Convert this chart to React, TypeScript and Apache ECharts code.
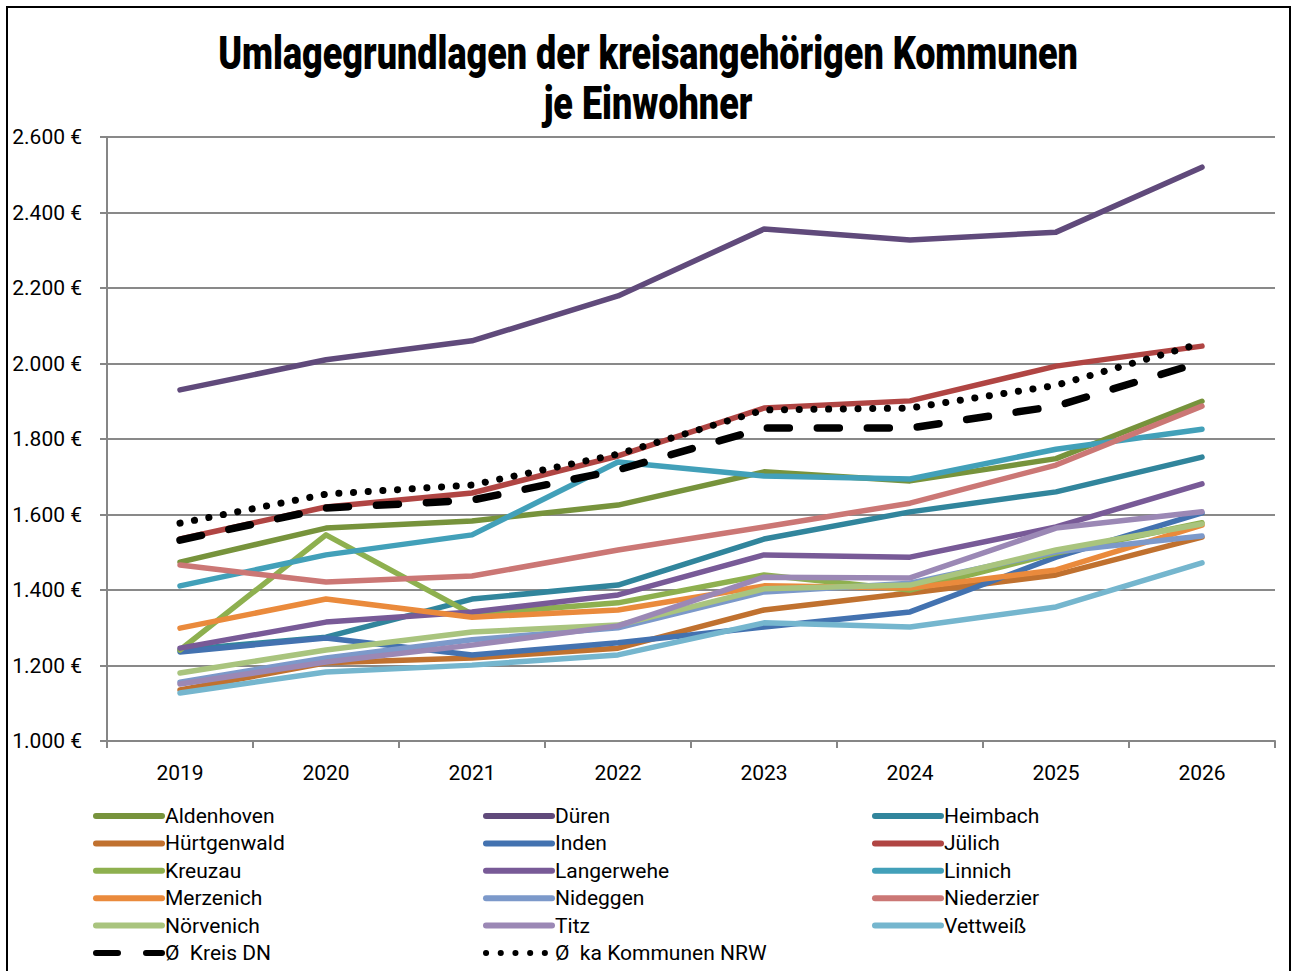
import React, { useEffect, useRef } from "react";
import * as echarts from "echarts";

const years = ["2019", "2020", "2021", "2022", "2023", "2024", "2025", "2026"];

const aldenhoven = [1474, 1564, 1583, 1625, 1713, 1689, 1748, 1900];
const dueren = [1930, 2010, 2060, 2179, 2356, 2327, 2348, 2520];
const heimbach = [1241, 1275, 1376, 1413, 1535, 1607, 1660, 1752];
const huertgenwald = [1135, 1207, 1220, 1246, 1347, 1392, 1440, 1540];
const inden = [1236, 1273, 1228, 1260, 1302, 1342, 1487, 1604];
const juelich = [1535, 1620, 1657, 1755, 1882, 1901, 1993, 2046];
const kreuzau = [1241, 1546, 1336, 1366, 1440, 1400, 1498, 1578];
const langerwehe = [1246, 1315, 1342, 1387, 1493, 1487, 1567, 1681];
const linnich = [1411, 1493, 1546, 1739, 1702, 1694, 1773, 1826];
const merzenich = [1299, 1376, 1328, 1347, 1411, 1405, 1453, 1572];
const nideggen = [1156, 1220, 1268, 1300, 1395, 1418, 1501, 1543];
const niederzier = [1466, 1421, 1437, 1506, 1567, 1630, 1731, 1887];
const noervenich = [1180, 1241, 1289, 1307, 1403, 1413, 1506, 1575];
const titz = [1151, 1209, 1254, 1305, 1434, 1432, 1564, 1607];
const vettweiss = [1127, 1183, 1201, 1228, 1313, 1302, 1355, 1472];
const kreisDN = [1532, 1617, 1638, 1718, 1829, 1829, 1887, 2004];
const nrw = [1577, 1654, 1678, 1760, 1877, 1882, 1942, 2054];

const yTicks = { min: 1000, max: 2600, interval: 200 };

const titleLines = ["Umlagegrundlagen der kreisangehörigen Kommunen", "je Einwohner"];

const FONT = "Roboto, 'Liberation Sans', sans-serif";

const muni = [
  { name: "Aldenhoven", data: aldenhoven, color: "#77933C" },
  { name: "Düren", data: dueren, color: "#604A7B" },
  { name: "Heimbach", data: heimbach, color: "#31859C" },
  { name: "Hürtgenwald", data: huertgenwald, color: "#C0712F" },
  { name: "Inden", data: inden, color: "#4372B0" },
  { name: "Jülich", data: juelich, color: "#B04543" },
  { name: "Kreuzau", data: kreuzau, color: "#8EB04F" },
  { name: "Langerwehe", data: langerwehe, color: "#785A97" },
  { name: "Linnich", data: linnich, color: "#42A0B9" },
  { name: "Merzenich", data: merzenich, color: "#EA8A3C" },
  { name: "Nideggen", data: nideggen, color: "#7C99CA" },
  { name: "Niederzier", data: niederzier, color: "#CB7775" },
  { name: "Nörvenich", data: noervenich, color: "#A9C47E" },
  { name: "Titz", data: titz, color: "#9B88B5" },
  { name: "Vettweiß", data: vettweiss, color: "#75B6CE" },
];

const fmt = (v: number) => {
  const t = Math.floor(v / 1000);
  const r = String(v % 1000).padStart(3, "0");
  return `${t}.${r} €`;
};

export default function App() {
  const ref = useRef<HTMLDivElement>(null);
  useEffect(() => {
    if (!ref.current) return;
    const chart = echarts.init(ref.current, undefined, { renderer: "svg" });

    const titleFont = `900 46px Roboto`;
    const ctx = document.createElement("canvas").getContext("2d")!;
    ctx.font = titleFont;
    const w1 = ctx.measureText(titleLines[0]).width || 1160;
    const sx = 860 / w1;

    const series: any[] = muni.map((m) => ({
      name: m.name,
      type: "line",
      data: m.data,
      symbol: "none",
      lineStyle: { color: m.color, width: 5.5, cap: "round", join: "round" },
      itemStyle: { color: m.color },
    }));
    series.push({
      name: "Ø  Kreis DN",
      type: "line",
      data: kreisDN,
      symbol: "none",
      lineStyle: { color: "#000", width: 7.5, type: [22, 28], cap: "round" },
      itemStyle: { color: "#000" },
    });
    series.push({
      name: "Ø  ka Kommunen NRW",
      type: "line",
      data: nrw,
      symbol: "none",
      lineStyle: { color: "#000", width: 7, type: [0.1, 14.6], cap: "round" },
      itemStyle: { color: "#000" },
    });
    const names = series.map((s) => s.name);
    const col = (i: number) => names.filter((_, k) => k % 3 === i);
    const legendBase = {
      orient: "vertical",
      top: 805,
      height: 200,
      padding: 0,
      itemWidth: 66,
      itemHeight: 12,
      itemGap: 5.4,
      lineStyle: { width: 6, cap: "round" },
      itemStyle: { color: "transparent", borderWidth: 0, opacity: 0 },
      textStyle: { fontFamily: FONT, fontSize: 21, color: "#000", lineHeight: 22, padding: [0, 0, 0, -2] },
      selectedMode: false,
    };
    chart.setOption({
      animation: false,
      backgroundColor: "#fff",
      graphic: [
        {
          type: "rect",
          shape: { x: 7, y: 7, width: 1283, height: 990 },
          style: { fill: "none", stroke: "#000", lineWidth: 2 },
          silent: true,
        },
        {
          type: "text",
          x: 648,
          y: 53,
          scaleX: sx,
          style: {
            text: titleLines[0],
            font: titleFont,
            fill: "#000",
            align: "center",
            verticalAlign: "middle",
          },
        },
        {
          type: "text",
          x: 648,
          y: 103,
          scaleX: sx,
          style: {
            text: titleLines[1],
            font: titleFont,
            fill: "#000",
            align: "center",
            verticalAlign: "middle",
          },
        },
      ],
      legend: [
        { ...legendBase, left: 93, data: col(0) },
        { ...legendBase, left: 483, data: col(1) },
        { ...legendBase, left: 872, data: col(2) },
      ],
      grid: { left: 107, right: 17, top: 137, bottom: 230 },
      xAxis: {
        type: "category",
        data: years,
        boundaryGap: true,
        axisLine: { lineStyle: { color: "#868686", width: 2 } },
        axisTick: { show: true, length: 7, lineStyle: { color: "#868686", width: 2 } },
        axisLabel: { fontFamily: FONT, fontSize: 21, color: "#000", margin: 21 },
      },
      yAxis: {
        type: "value",
        min: yTicks.min,
        max: yTicks.max,
        interval: yTicks.interval,
        axisLine: { show: true, lineStyle: { color: "#868686", width: 2 } },
        axisTick: { show: true, length: 7, lineStyle: { color: "#868686", width: 2 } },
        splitLine: { lineStyle: { color: "#898989", width: 2 } },
        axisLabel: { fontFamily: FONT, fontSize: 21, color: "#000", margin: 25, formatter: fmt },
      },
      series,
    });
    return () => chart.dispose();
  }, []);
  return (
    <div
      ref={ref}
      style={{ position: "absolute", left: 0, top: 0, width: 1292, height: 971 }}
    />
  );
}
